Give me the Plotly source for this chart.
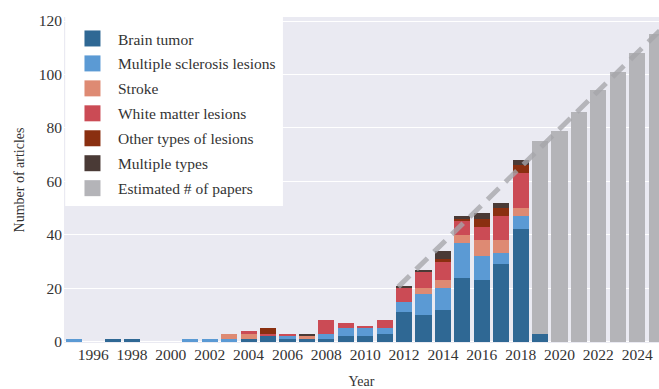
import plotly.graph_objects as go

# Publication counts per year and lesion category
years = list(range(1995, 2026))
brain_tumor = [0, 0, 1, 1, 0, 0, 0, 0, 0, 1, 2, 1, 1, 1, 2, 2, 3, 11, 10, 12, 24, 23, 29, 42, 3, 0, 0, 0, 0, 0, 0]
ms_lesions = [1, 0, 0, 0, 0, 0, 1, 1, 1, 0, 0, 1, 0, 2, 3, 3, 2, 4, 8, 8, 13, 9, 4, 5, 0, 0, 0, 0, 0, 0, 0]
stroke = [0, 0, 0, 0, 0, 0, 0, 0, 2, 2, 0, 0, 1, 0, 0, 0, 0, 0, 2, 3, 3, 6, 5, 3, 0, 0, 0, 0, 0, 0, 0]
wm_lesions = [0, 0, 0, 0, 0, 0, 0, 0, 0, 1, 1, 1, 0, 5, 2, 1, 3, 5, 6, 7, 5, 5, 9, 13, 0, 0, 0, 0, 0, 0, 0]
other_lesions = [0, 0, 0, 0, 0, 0, 0, 0, 0, 0, 2, 0, 0, 0, 0, 0, 0, 0, 0, 1, 1, 3, 3, 3, 0, 0, 0, 0, 0, 0, 0]
multiple_types = [0, 0, 0, 0, 0, 0, 0, 0, 0, 0, 0, 0, 1, 0, 0, 0, 0, 1, 1, 3, 1, 2, 2, 2, 0, 0, 0, 0, 0, 0, 0]
estimated = [0, 0, 0, 0, 0, 0, 0, 0, 0, 0, 0, 0, 0, 0, 0, 0, 0, 0, 0, 0, 0, 0, 0, 0, 72, 79, 86, 94, 101, 108, 115]

# Linear growth trend drawn over the bars
trend_years = [2011.7, 2025.6]
trend_values = [20.5, 119.5]

series = [
    ("Brain tumor", brain_tumor, "#2f6894"),
    ("Multiple sclerosis lesions", ms_lesions, "#5b9ad4"),
    ("Stroke", stroke, "#de8a73"),
    ("White matter lesions", wm_lesions, "#cb4b55"),
    ("Other types of lesions", other_lesions, "#8a2f10"),
    ("Multiple types", multiple_types, "#4a3a36"),
    ("Estimated # of papers", estimated, "#b4b4b8"),
]

x_ticks = list(range(1996, 2025, 2))
y_ticks = list(range(0, 121, 20))

FONT = "Liberation Serif"
TEXT = "#333333"

fig = go.Figure()

for name, values, color in series:
    fig.add_trace(go.Bar(
        x=years, y=values, name=name,
        marker=dict(color=color, line=dict(width=0)),
        showlegend=False,
    ))

fig.add_trace(go.Scatter(
    x=trend_years, y=trend_values, mode="lines",
    line=dict(color="rgba(165,165,170,0.78)", width=5, dash="16px,9px"),
    showlegend=False, hoverinfo="skip",
))

# Legend entries drawn as larger square swatches
for i, (name, values, color) in enumerate(series):
    fig.add_trace(go.Scatter(
        x=[None], y=[None], mode="markers", name=name,
        marker=dict(symbol="square", size=16, color=color),
        legendgroup=f"g{i}", showlegend=True,
    ))

# White panel behind the legend entries
fig.add_shape(
    type="rect", xref="paper", yref="paper",
    x0=0.002, x1=0.368, y0=0.42, y1=1.0,
    fillcolor="white", opacity=0.96, line=dict(width=0), layer="above",
)

fig.update_layout(
    width=659, height=389,
    barmode="stack", bargap=0.17,
    paper_bgcolor="white", plot_bgcolor="#eaeaf2",
    margin=dict(l=64, r=0, t=17, b=46, autoexpand=False),
    font=dict(family=FONT, size=15, color=TEXT),
    legend=dict(
        x=0.005, y=0.985, xanchor="left", yanchor="top",
        bgcolor="rgba(0,0,0,0)", borderwidth=0,
        font=dict(family=FONT, size=15.5, color=TEXT),
        traceorder="grouped", tracegroupgap=1.8,
        itemwidth=41,
    ),
)

fig.update_xaxes(
    range=[1994.5, 2025.12], tickvals=x_ticks, ticktext=[str(v) for v in x_ticks],
    showgrid=False, zeroline=False, showline=False, ticks="",
    tickfont=dict(family=FONT, size=15.5, color=TEXT),
    title=dict(text="Year", font=dict(family=FONT, size=14, color=TEXT), standoff=19),
    automargin=False,
)
fig.update_yaxes(
    range=[-0.5, 121.5], tickvals=y_ticks,
    showgrid=True, gridcolor="white", gridwidth=1.3,
    zeroline=False, showline=False, ticks="",
    tickfont=dict(family=FONT, size=15.5, color=TEXT),
    ticklabelstandoff=1,
    title=dict(text="Number of articles", font=dict(family=FONT, size=14, color=TEXT), standoff=10),
    automargin=False,
)

fig.write_html("out.html")
